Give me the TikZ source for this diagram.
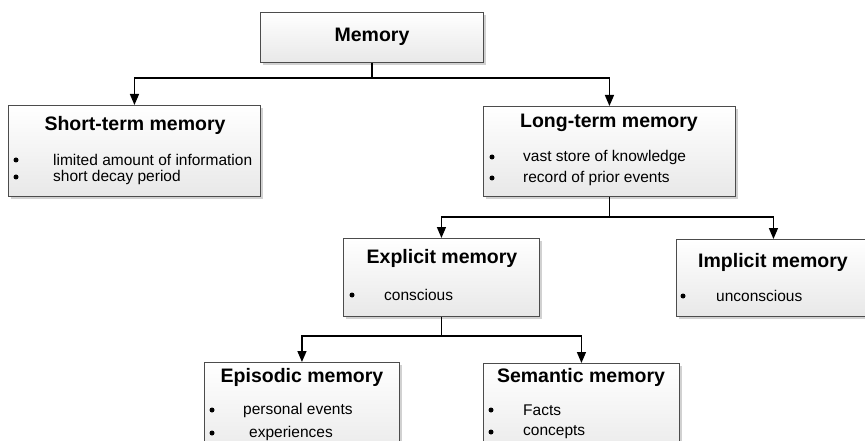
\documentclass[tikz,border=0pt]{standalone}
\usepackage{fontspec}
\setmainfont{Liberation Sans}
\usetikzlibrary{arrows.meta,shadows}
\tikzset{
  box/.style={rectangle, draw=black!70, line width=0.9pt, anchor=north west,
    top color=white, bottom color=black!9, inner sep=0pt,
    general shadow={fill=black, opacity=0.18, shadow xshift=3pt, shadow yshift=-3pt}},
  ttl/.style={font=\fontsize{19.5}{23}\selectfont\bfseries, inner sep=0pt},
  txt/.style={font=\fontsize{15.5}{18}\selectfont, anchor=west, inner sep=0pt},
  bul/.style={circle, fill=black, inner sep=0pt, minimum size=5pt},
  conn/.style={line width=1.4pt, black},
  arr/.style={conn, -{Triangle[length=11pt,width=9pt]}}
}
\begin{document}
\begin{tikzpicture}[x=1pt,y=-1pt]
\useasboundingbox (0,0) rectangle (865,441);
\clip (0,0) rectangle (865,441);
% boxes
\node[box, minimum width=223pt, minimum height=50pt] (m) at (260,12) {};
\node[box, minimum width=252pt, minimum height=91pt] (s) at (8,105) {};
\node[box, minimum width=252pt, minimum height=90pt] (l) at (483,106) {};
\node[box, minimum width=196pt, minimum height=78pt] (e) at (343,238) {};
\node[box, minimum width=194pt, minimum height=77pt] (i) at (676,239) {};
\node[box, minimum width=195pt, minimum height=100pt] (ep) at (204,362) {};
\node[box, minimum width=196pt, minimum height=100pt] (se) at (483,363) {};
% titles
\node[ttl] (mt) at (372,37) {Memory};
\node[ttl] (st) at (135,125) {Short-term memory};
\node[ttl] (lt) at (609,123) {Long-term memory};
\node[ttl] (et) at (442,258) {Explicit memory};
\node[ttl] (it) at (773,262) {Implicit memory};
\node[ttl] (ept) at (302,377) {Episodic memory};
\node[ttl] (set) at (581,377) {Semantic memory};
% bullets and texts
\node[bul] (sb1) at (16,160) {};
\node[txt] (sx1) at (53,160) {limited amount of information};
\node[bul] (sb2) at (16,177) {};
\node[txt] (sx2) at (53,177) {short decay period};
\node[bul] (lb1) at (492,157) {};
\node[txt] (lx1) at (523,157) {vast store of knowledge};
\node[bul] (lb2) at (492,178) {};
\node[txt] (lx2) at (523,178) {record of prior events};
\node[bul] (eb1) at (352,295) {};
\node[txt] (ex1) at (384,295) {conscious};
\node[bul] (ib1) at (683,296) {};
\node[txt] (ix1) at (716,296) {unconscious};
\node[bul] (epb1) at (212,410) {};
\node[txt] (epx1) at (243,410) {personal events};
\node[bul] (epb2) at (212,433) {};
\node[txt] (epx2) at (249,433) {experiences};
\node[bul] (seb1) at (491,410) {};
\node[txt] (sex1) at (523,410) {Facts};
\node[bul] (seb2) at (491,432) {};
\node[txt] (sex2) at (523,432) {concepts};
% connectors
\coordinate (y1) at (0,78);
\coordinate (y2) at (0,217);
\coordinate (y3) at (0,336);
\coordinate (j1) at (m.south |- y1);
\coordinate (j2) at (l.south |- y2);
\coordinate (j3) at (e.south |- y3);
\draw[conn] (m.south) -- (j1);
\draw[arr] (j1) -| (s.north);
\draw[arr] (j1) -| (l.north);
\draw[conn] (l.south) -- (j2);
\draw[arr] (j2) -| (e.north);
\draw[arr] (j2) -| (i.north);
\draw[conn] (e.south) -- (j3);
\draw[arr] (j3) -| (ep.north);
\draw[arr] (j3) -| (se.north);
\end{tikzpicture}
\end{document}
